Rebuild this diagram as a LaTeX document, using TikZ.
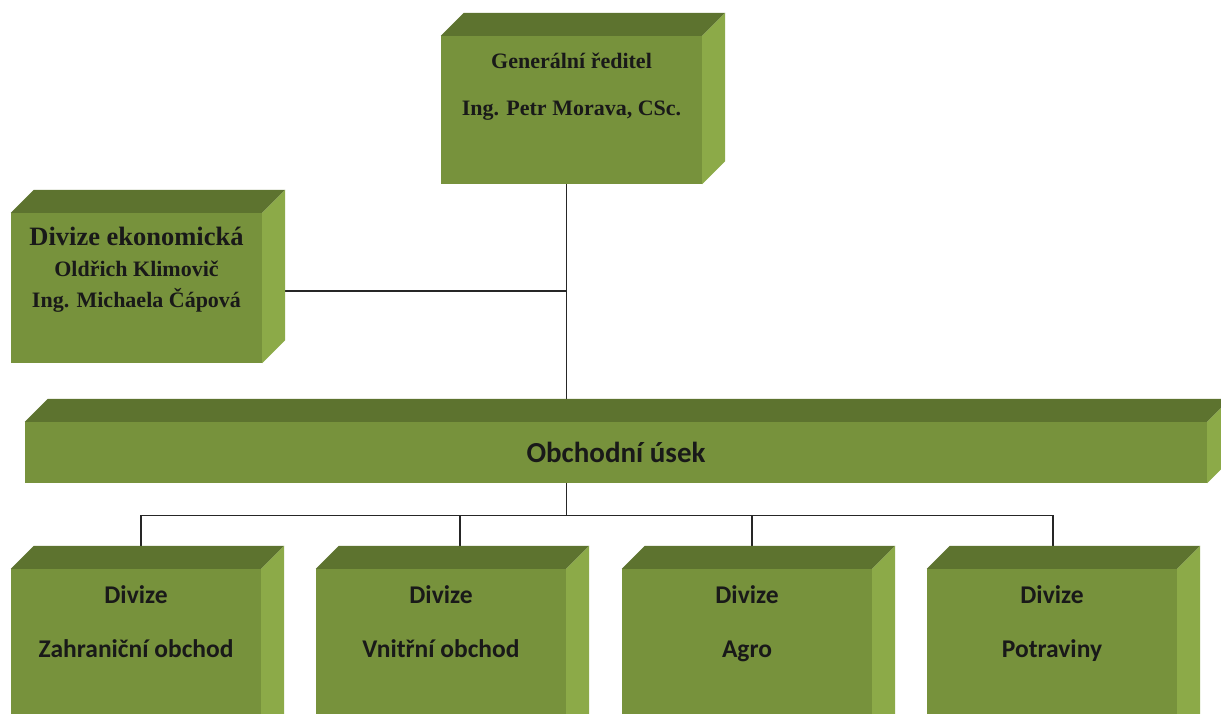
\documentclass[tikz,border=0pt]{standalone}
\usepackage{fontspec}
\setmainfont{Liberation Serif}
\newfontfamily\boxsans{Carlito}
\usetikzlibrary{positioning,calc}

\definecolor{olvfront}{RGB}{119,146,60}
\definecolor{olvtop}{RGB}{93,115,47}
\definecolor{olvside}{RGB}{140,170,72}

\tikzset{
	face/.style={fill=olvfront, draw=none, inner sep=0pt},
	topface/.style={fill=olvtop},
	sideface/.style={fill=olvside},
	conn/.style={draw=black!85, line width=1.1pt},
	lbl/.style={inner sep=0pt, align=center, text=black!90},
}

\newcommand{\extrudebox}[2][23]{%
	\fill[topface] (#2.north west) -- ++(#1,-#1) -- ($(#2.north east)+(#1,-#1)$) -- (#2.north east) -- cycle;
	\fill[sideface] (#2.north east) -- ++(#1,-#1) -- ($(#2.south east)+(#1,-#1)$) -- (#2.south east) -- cycle;
}

\begin{document}
\begin{tikzpicture}[x=1pt, y=-1pt]
	\useasboundingbox (0,0) rectangle (1221,713);
	\clip (0,0) rectangle (1221,713);
	\fill[white] (0,0) rectangle (1221,713);

	\node[face, minimum width=261pt, minimum height=148pt] (gr) at (571.5,110) {};
	\node[face, minimum width=251pt, minimum height=150pt] (ek) at (136.5,288) {};
	\node[face, minimum width=1182pt, minimum height=61pt] (ou) at (616,452.5) {};
	\foreach \n/\x in {1/136, 2/441, 3/747, 4/1052}
		\node[face, minimum width=250pt, minimum height=200pt] (d\n) at (\x,669) {};

	\coordinate (trunk) at ([xshift=-5pt]gr.south);
	\draw[conn] (trunk) -- (trunk |- ou.north);
	\draw[conn] ([yshift=-3pt]ek.east) -- ([yshift=-3pt]ek.east -| trunk);
	\draw[conn] (trunk |- ou.south) -- ++(0,32) coordinate (bus);
	\foreach \n/\s in {1/5, 2/19, 3/5, 4/1}
		\coordinate (tap\n) at ([xshift=\s pt]d\n.north);
	\draw[conn] (bus -| tap1) -- (bus -| tap4);
	\foreach \n in {1,...,4}
		\draw[conn] (bus -| tap\n) -- (tap\n);

	\foreach \b in {gr, ek, ou, d1, d2, d3, d4}
		\extrudebox{\b};

	\node[lbl, font=\bfseries\fontsize{22}{26}\selectfont, below=17pt of gr.north] (grt)
		{Generální ředitel\\[21pt]Ing. Petr Morava, CSc.};
	\node[lbl, font=\bfseries\fontsize{22}{31}\selectfont, below=14pt of ek.north] (ekt)
		{{\fontsize{26.5}{30}\selectfont Divize ekonomická}\\Oldřich Klimovič\\Ing. Michaela Čápová};
	\node[lbl, font=\boxsans\bfseries\fontsize{29}{34}\selectfont] (out) at (ou) {Obchodní úsek};
	\foreach \n/\t in {1/Zahraniční obchod, 2/Vnitřní obchod, 3/Agro, 4/Potraviny}
		\node[lbl, font=\boxsans\bfseries\fontsize{25.5}{30}\selectfont, below=17pt of d\n.north] (lab\n)
			{Divize\\[24pt]\t};
\end{tikzpicture}
\end{document}
